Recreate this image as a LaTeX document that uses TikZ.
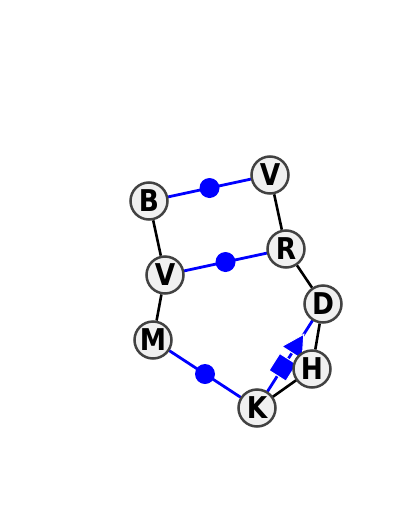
\documentclass[tikz,border=0pt]{standalone}
\usepackage{fontspec}
\usepackage{xcolor}
\setmainfont{DejaVu Sans}[FakeStretch=0.88]
\usetikzlibrary{calc}
\usetikzlibrary{shapes.geometric}
\usetikzlibrary{backgrounds}
\definecolor{ringgray}{HTML}{424242}
\definecolor{atomfill}{HTML}{F0F0F0}

\begin{document}
\begin{tikzpicture}[x=1pt,y=-1pt,
  atom/.style={circle, draw=ringgray, line width=2.5pt, fill=atomfill, minimum size=37pt, inner sep=0pt, font=\fontsize{30}{30}\selectfont\bfseries},
  bond/.style={black, line width=2.6pt, shorten <=-3pt, shorten >=-3pt},
  hbond/.style={blue, line width=2.8pt, shorten <=-3pt, shorten >=-3pt},
  hdot/.style={circle, fill=blue, minimum size=20pt, inner sep=0pt},
  hbox/.style={sloped, rectangle, fill=blue, draw=white, line width=1pt, minimum size=20pt, inner sep=0pt},
  harrow/.style={sloped, isosceles triangle, isosceles triangle stretches, fill=blue, draw=white, line width=1pt, minimum height=22pt, minimum width=24pt, inner sep=0pt}]
\useasboundingbox (0,0) rectangle (400,509);
\foreach \n/\t/\x/\y in {B/B/149/201, V1/V/270/175, R/R/286/249, V2/V/165/275, M/M/153/340, D/D/323/304, H/H/312/369, K/K/257/408} {
  \node[atom] (\n) at (\x,\y) {\t};
}
\begin{pgfonlayer}{background}
\draw[bond] (B)--(V2) (V2)--(M) (V1)--(R) (R)--(D) (D)--(H) (H)--(K);
\draw[hbond] (B)--(V1) node[midway, hdot]{};
\draw[hbond] (V2)--(R) node[midway, hdot]{};
\draw[hbond] (M)--(K) node[midway, hdot]{};
\draw[hbond] (K)--(D)
  node[pos=.34, hbox]{}
  node[pos=.63, harrow]{};
\end{pgfonlayer}
\end{tikzpicture}
\end{document}
